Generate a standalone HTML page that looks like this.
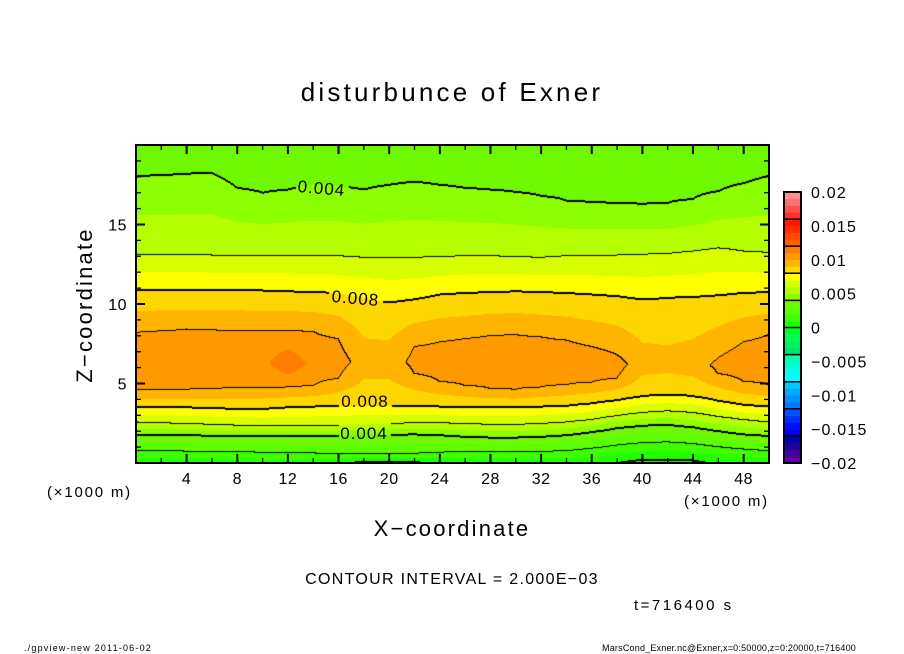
<!DOCTYPE html>
<html><head><meta charset="utf-8"><title>disturbunce of Exner</title>
<style>
body{margin:0;background:#fff;width:904px;height:654px;overflow:hidden;position:relative;font-family:"Liberation Sans","DejaVu Sans",sans-serif;}
#plot{position:absolute;left:136px;top:145px;}
svg{position:absolute;left:0;top:0;}
</style></head>
<body>
<canvas id="plot" width="633" height="318"></canvas>
<svg id="ov" width="904" height="654"></svg>
<script>
// Column positions (km) every 2 km from 0 to 50
const xCols = [0,2,4,6,8,10,12,14,16,18,20,22,24,26,28,30,32,34,36,38,40,42,44,46,48,50];
// Heights (km) of contour levels per column
const bottomVal = [0.0005,0.0005,0.0005,0.0005,0.0005,0.0005,0.0005,0.0004,0.0002,-0.0003,-0.0003,-0.0002,0.0002,0.0004,0.0005,0.0005,0.0005,0.0004,0.0003,0.0,-0.0004,-0.0004,-0.0003,0.0002,0.0004,0.0005];
const low002 = [0.75,0.75,0.72,0.7,0.68,0.65,0.62,0.6,0.56,0.55,0.55,0.58,0.65,0.7,0.72,0.7,0.7,0.75,0.9,1.1,1.25,1.3,1.2,1.0,0.85,0.75];
const low004 = [1.75,1.75,1.75,1.72,1.7,1.7,1.7,1.7,1.72,1.75,1.78,1.8,1.75,1.65,1.6,1.6,1.65,1.75,1.95,2.2,2.35,2.4,2.25,2.0,1.8,1.7];
const low006 = [2.55,2.5,2.45,2.4,2.35,2.3,2.3,2.3,2.35,2.4,2.45,2.5,2.5,2.45,2.4,2.4,2.45,2.55,2.7,2.95,3.15,3.25,3.15,2.9,2.7,2.55];
const low008 = [3.5,3.5,3.5,3.45,3.4,3.4,3.5,3.55,3.6,3.6,3.6,3.6,3.55,3.5,3.5,3.5,3.55,3.6,3.75,3.95,4.2,4.3,4.2,3.9,3.65,3.55];
const low010 = [4.6,4.6,4.6,4.65,4.7,4.7,4.75,4.85,5.3,null,null,5.6,5.1,4.85,4.65,4.6,4.75,4.9,5.05,5.3,null,null,null,5.6,5.1,4.9];
const peakZ = [6.4,6.4,6.4,6.4,6.4,6.4,6.25,6.3,6.4,6.3,6.3,6.4,6.4,6.3,6.3,6.3,6.3,6.3,6.3,6.2,6.2,6.2,6.2,6.1,6.3,6.4];
const peakV = [0.0106,0.0106,0.0106,0.0107,0.0106,0.0107,0.0118,0.0107,0.0104,0.0096,0.0096,0.0102,0.0105,0.0107,0.0107,0.0107,0.0107,0.0107,0.0107,0.0104,0.0095,0.0094,0.0096,0.0102,0.0106,0.0107];
const up010 = [8.2,8.3,8.4,8.35,8.3,8.3,8.3,8.25,7.8,null,null,7.3,7.6,7.8,8.0,8.05,7.9,7.7,7.3,6.8,null,null,null,6.6,7.6,8.06];
const up008 = [10.9,10.9,10.9,10.9,10.9,10.85,10.8,10.75,10.7,10.4,10.1,10.3,10.6,10.7,10.75,10.8,10.75,10.7,10.6,10.5,10.3,10.4,10.45,10.55,10.7,10.75];
const up006 = [13.1,13.1,13.1,13.05,13.05,13.05,13.05,13.0,13.0,12.9,12.9,12.9,12.95,13.0,13.0,12.95,12.9,13.0,13.0,13.05,13.1,13.15,13.3,13.5,13.3,13.2];
const up004 = [18.06,18.1,18.2,18.25,17.3,17.0,17.2,17.5,17.4,17.2,17.5,17.7,17.5,17.3,17.2,17.05,16.8,16.5,16.4,16.35,16.3,16.35,16.6,17.1,17.6,18.06];
const topVal = [0.0032,0.0032,0.0032,0.0032,0.0032,0.0032,0.0032,0.0032,0.0032,0.0032,0.0032,0.0032,0.0032,0.0032,0.0032,0.0032,0.0032,0.0032,0.0032,0.0032,0.0032,0.0032,0.0032,0.0032,0.0032,0.0032];
// Colour bar ticks
const cbTicks = [0.02,0.015,0.01,0.005,0,-0.005,-0.01,-0.015,-0.02];
const cbTickLabels = ["0.02","0.015","0.01","0.005","0","\u22120.005","\u22120.01","\u22120.015","\u22120.02"];
const xTicks = [4,8,12,16,20,24,28,32,36,40,44,48];
const zTicks = [5,10,15];
const palette = [
"#6000a0","#400099","#200099","#0000aa","#0000ee","#0010ff","#0030ff","#0050ff",
"#0078ff","#0090ff","#00a8ff","#00c8ff","#00ffff","#00ffe8","#00ffd0","#00ffb0",
"#00e070","#00f060","#00ff50","#00ff30","#1eff00","#3cff00","#5aff00","#70f800",
"#8cff00","#b4ff00","#d8ff00","#ffff00","#ffd700","#ffb400","#ff9900","#ff7d00",
"#ff6000","#ff4800","#ff3000","#ff1800","#ff3030","#ff5050","#ff7070","#ff9090"];

const X0=136,X1=769,Y0=145,Y1=463;
const xs = x => X0 + (x/50)*(X1-X0);
const ys = z => Y1 - (z/20)*(Y1-Y0);

function knots(i){
  const k=[[0,bottomVal[i]],[low002[i],0.002],[low004[i],0.004],[low006[i],0.006],[low008[i],0.008]];
  if(low010[i]!==null) k.push([low010[i],0.010]);
  k.push([peakZ[i],peakV[i]]);
  if(up010[i]!==null) k.push([up010[i],0.010]);
  k.push([up008[i],0.008],[up006[i],0.006],[up004[i],0.004],[20,topVal[i]]);
  return k;
}
const K = xCols.map((_,i)=>knots(i));
function prof(i,z){
  const k=K[i];
  if(z<=k[0][0]) return k[0][1];
  for(let j=1;j<k.length;j++){
    if(z<=k[j][0]){const t=(z-k[j-1][0])/(k[j][0]-k[j-1][0]||1);return k[j-1][1]+t*(k[j][1]-k[j-1][1]);}
  }
  return k[k.length-1][1];
}
function val(x,z){
  let f=x/2;let i=Math.min(Math.floor(f),xCols.length-2);let t=f-i;
  return prof(i,z)*(1-t)+prof(i+1,z)*t;
}
function hex(c){return [parseInt(c.substr(1,2),16),parseInt(c.substr(3,2),16),parseInt(c.substr(5,2),16)];}
const palRGB = palette.map(hex);

const labelBoxes=[[296,176,348,197],[329,286,382,308],[339,391,391,411],[339,423,390,443]];
const inBox=(px,py)=>labelBoxes.some(b=>px>=b[0]&&px<=b[2]&&py>=b[1]&&py<=b[3]);

const cv=document.getElementById('plot');const ctx=cv.getContext('2d');
const W=cv.width,H=cv.height;const img=ctx.createImageData(W,H);
const V=new Float32Array(W*H);
for(let py=0;py<H;py++)for(let px=0;px<W;px++){
  const x=(px+0.5)/W*50, z=(H-py-0.5)/H*20;
  V[py*W+px]=val(x,z);
}
for(let py=0;py<H;py++)for(let px=0;px<W;px++){
  const v=V[py*W+px];
  let b=Math.floor((v+0.02)/0.001);b=Math.max(0,Math.min(39,b));
  let c=palRGB[b];
  const k=Math.floor(v/0.002+1e-9);
  let edge=false;
  const nb=[[1,0],[0,1],[-1,0],[0,-1]];
  for(const [dx,dy] of nb){
    const qx=px+dx,qy=py+dy;if(qx<0||qy<0||qx>=W||qy>=H)continue;
    const k2=Math.floor(V[qy*W+qx]/0.002+1e-9);
    if(k2!==k){const L=Math.max(k,k2);
      if(dx>=0&&dy>=0){edge=true;}
      if(L%2===0){edge=true;}
    }
  }
  if(edge&&!inBox(px+X0,py+Y0)) c=[0,0,0];
  const o=(py*W+px)*4;img.data[o]=c[0];img.data[o+1]=c[1];img.data[o+2]=c[2];img.data[o+3]=255;
}
ctx.putImageData(img,0,0);

const NS='http://www.w3.org/2000/svg';const svg=document.getElementById('ov');
function el(tag,attrs,text){const e=document.createElementNS(NS,tag);for(const k in attrs)e.setAttribute(k,attrs[k]);if(text!==undefined)e.textContent=text;svg.appendChild(e);return e;}
const F='"Liberation Sans","DejaVu Sans",sans-serif';

let e;
e=el('text',{x:452,y:101,'text-anchor':'middle','font-size':26,'font-family':F,'letter-spacing':'3.2'},'disturbunce of Exner');

e=el('rect',{x:X0,y:Y0,width:X1-X0,height:Y1-Y0,fill:'none',stroke:'#000','stroke-width':2});

for(let x=2;x<50;x+=2){
  const major=(x%4===0),len=major?9:5,px=xs(x);
  e=el('line',{x1:px,y1:Y1,x2:px,y2:Y1-len,stroke:'#000','stroke-width':major?2:1.3});
  
  e=el('line',{x1:px,y1:Y0,x2:px,y2:Y0+len,stroke:'#000','stroke-width':major?2:1.3});
  
}
for(let z=1;z<20;z++){
  const major=(z%5===0),len=major?9:5,py=ys(z);
  e=el('line',{x1:X0,y1:py,x2:X0+len,y2:py,stroke:'#000','stroke-width':major?2:1.3});
  
  e=el('line',{x1:X1,y1:py,x2:X1-len,y2:py,stroke:'#000','stroke-width':major?2:1.3});
  
}
xTicks.forEach(x=>{
  e=el('text',{x:xs(x),y:484,'text-anchor':'middle','font-size':16,'font-family':F,'letter-spacing':'0.5'},String(x));
  
});
zTicks.forEach(z=>{
  e=el('text',{x:127,y:ys(z)+6,'text-anchor':'end','font-size':16,'font-family':F,'letter-spacing':'0.5'},String(z));
  
});
e=el('text',{x:47,y:497,'font-size':15,'font-family':F,'letter-spacing':'1.8'},'(\u00d71000 m)');

e=el('text',{x:684,y:506,'font-size':15,'font-family':F,'letter-spacing':'1.8'},'(\u00d71000 m)');

e=el('text',{x:452,y:536,'text-anchor':'middle','font-size':22,'font-family':F,'letter-spacing':'2.2'},'X\u2212coordinate');

e=el('text',{x:0,y:0,'text-anchor':'middle','font-size':22,'font-family':F,'letter-spacing':'2.2',transform:'translate(92,305) rotate(-90)'},'Z\u2212coordinate');

const cl=[[321,194,'0.004',5],[355,304,'0.008',5],[365,407,'0.008',0],[364,439,'0.004',0]];
cl.forEach(c=>{
  e=el('text',{x:c[0],y:c[1],'text-anchor':'middle','font-size':17,'font-family':F,'letter-spacing':'1',transform:`rotate(${c[3]} ${c[0]} ${c[1]})`},c[2]);
  
});
const CB0=192,CB1=463,CBX=784,CBW=17;
const cy=v=>CB1-(v+0.02)/0.04*(CB1-CB0);
palette.forEach((c,i)=>{
  const v0=-0.02+i*0.001;
  e=el('rect',{x:CBX,y:cy(v0+0.001),width:CBW,height:cy(v0)-cy(v0+0.001)+0.3,fill:c});
  
});
for(let i=1;i<10;i++){
  const v=-0.02+i*0.004;
  e=el('line',{x1:CBX,x2:CBX+CBW,y1:cy(v),y2:cy(v),stroke:'#000','stroke-width':1.5});
  
}
e=el('rect',{x:CBX,y:CB0,width:CBW,height:CB1-CB0,fill:'none',stroke:'#000','stroke-width':2});

cbTicks.forEach((v,i)=>{
  e=el('text',{x:811,y:cy(v)+6,'font-size':16,'font-family':F,'letter-spacing':'1.2'},cbTickLabels[i]);
  
});
e=el('text',{x:452,y:584,'text-anchor':'middle','font-size':16,'font-family':F,'letter-spacing':'1.3'},'CONTOUR INTERVAL = 2.000E\u221203');

e=el('text',{x:634,y:610,'font-size':15,'font-family':F,'letter-spacing':'2.5'},'t=716400 s');

e=el('text',{x:24,y:651,'font-size':9,'font-family':F,'letter-spacing':'1.2'},'./gpview-new   2011-06-02');

e=el('text',{x:856,y:651,'text-anchor':'end','font-size':9,'font-family':F,'letter-spacing':'0.2'},'MarsCond_Exner.nc@Exner,x=0:50000,z=0:20000,t=716400');

</script>
</body></html>
